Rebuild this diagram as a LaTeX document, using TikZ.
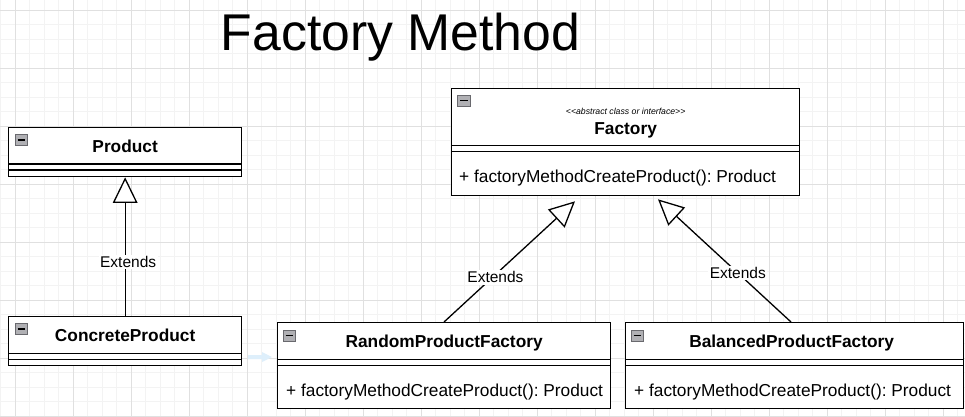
\documentclass[tikz,border=0pt]{standalone}
\usepackage{fontspec}
\setmainfont{Liberation Sans}
\usetikzlibrary{arrows.meta,calc}
\frenchspacing
\definecolor{gridmajor}{RGB}{224,224,224}
\definecolor{gridminor}{RGB}{243,243,243}
\definecolor{hint}{RGB}{222,239,251}
\definecolor{iconfill}{RGB}{176,176,180}
\definecolor{iconedge}{RGB}{105,105,110}
\tikzset{
  box/.style={draw=black, line width=1.3pt, fill=white, inner sep=0pt, anchor=north west},
  sepline/.style={line width=1.3pt},
  hdr/.style={font=\fontsize{17.3}{20}\selectfont\bfseries, anchor=base, inner sep=0pt},
  meth/.style={font=\fontsize{17.3}{20}\selectfont, anchor=base west, inner sep=0pt},
  stereo/.style={font=\fontsize{8.7}{10}\selectfont\itshape, anchor=base, inner sep=0pt},
  lbl/.style={font=\fontsize{15.5}{18}\selectfont, fill=white, inner sep=1.5pt},
  ext/.style={line width=1.3pt, -{Triangle[open, length=25.5pt, width=24.5pt, fill=white]}},
  collapseicon/.pic={
    \draw[draw=iconedge, fill=iconfill, line width=0.7pt] (0,0) rectangle (12.5,11);
    \draw[line width=1.6pt] (2.5,5.5) -- (10,5.5);
  }
}
\begin{document}
\begin{tikzpicture}[x=1pt,y=-1pt]
\useasboundingbox (0,0) rectangle (965,416);
\fill[white] (0,0) rectangle (965,416);
\begin{scope}
\clip (0,0) rectangle (965,416);
\foreach \k in {-1,...,66} \draw[gridminor, line width=0.7pt] ({15+14.5*\k},0) -- ({15+14.5*\k},416);
\foreach \k in {-1,...,28} \draw[gridminor, line width=0.7pt] (0,{10+14.5*\k}) -- (965,{10+14.5*\k});
\foreach \k in {0,...,16} \draw[gridmajor, line width=0.8pt] ({15+58*\k},0) -- ({15+58*\k},416);
\foreach \k in {0,...,7} \draw[gridmajor, line width=0.8pt] (0,{10+58*\k}) -- (965,{10+58*\k});
\end{scope}

% title
\node[font=\fontsize{51.7}{60}\selectfont, anchor=base, inner sep=0pt] (title) at (400.4,50) {Factory Method};

% faint hint arrow
\fill[hint] (248,355) -- (262,355) -- (262,352) -- (272,357) -- (262,362) -- (262,359) -- (248,359) -- cycle;

% Product
\node[box, minimum width=233pt, minimum height=49pt] (prod) at (8,127) {};
\draw[sepline] ($(prod.north west)+(0,37)$) -- ($(prod.north east)+(0,37)$);
\draw[sepline] ($(prod.north west)+(0,43)$) -- ($(prod.north east)+(0,43)$);
\pic at ($(prod.north west)+(7,7.5)$) {collapseicon};
\node[hdr] (prodT) at ($(prod.north)+(0,25.7)$) {Product};

% ConcreteProduct
\node[box, minimum width=233pt, minimum height=49pt] (cp) at (8,316) {};
\draw[sepline] ($(cp.north west)+(0,37.5)$) -- ($(cp.north east)+(0,37.5)$);
\draw[sepline] ($(cp.north west)+(0,43.5)$) -- ($(cp.north east)+(0,43.5)$);
\pic at ($(cp.north west)+(7,7.5)$) {collapseicon};
\node[hdr] (cpT) at ($(cp.north)+(0,25)$) {ConcreteProduct};

% Factory
\node[box, minimum width=348pt, minimum height=107pt] (fac) at (451,88) {};
\draw[sepline] ($(fac.north west)+(0,57.7)$) -- ($(fac.north east)+(0,57.7)$);
\draw[sepline] ($(fac.north west)+(0,63.7)$) -- ($(fac.north east)+(0,63.7)$);
\pic at ($(fac.north west)+(6.5,7)$) {collapseicon};
\node[stereo] (facS) at ($(fac.north)+(0,26)$) {<{}<abstract class or interface>{}>};
\node[hdr] (facT) at ($(fac.north)+(0,46.3)$) {Factory};
\node[meth] (facM) at ($(fac.north west)+(8,94.7)$) {+ factoryMethodCreateProduct(): Product};

% RandomProductFactory
\node[box, minimum width=333pt, minimum height=86pt] (rpf) at (277,322) {};
\draw[sepline] ($(rpf.north west)+(0,37.5)$) -- ($(rpf.north east)+(0,37.5)$);
\draw[sepline] ($(rpf.north west)+(0,43.5)$) -- ($(rpf.north east)+(0,43.5)$);
\pic at ($(rpf.north west)+(6,8)$) {collapseicon};
\node[hdr] (rpfT) at ($(rpf.north)+(0,25.3)$) {RandomProductFactory};
\node[meth] (rpfM) at ($(rpf.north west)+(9,74.7)$) {+ factoryMethodCreateProduct(): Product};

% BalancedProductFactory
\node[box, minimum width=338pt, minimum height=86pt] (bpf) at (625,322) {};
\draw[sepline] ($(bpf.north west)+(0,37.5)$) -- ($(bpf.north east)+(0,37.5)$);
\draw[sepline] ($(bpf.north west)+(0,43.5)$) -- ($(bpf.north east)+(0,43.5)$);
\pic at ($(bpf.north west)+(6,8)$) {collapseicon};
\node[hdr] (bpfT) at ($(bpf.north)+(-3,25.3)$) {BalancedProductFactory};
\node[meth] (bpfM) at ($(bpf.north west)+(9,74.7)$) {+ factoryMethodCreateProduct(): Product};

% connectors
\draw[ext] (cp.north) -- node[lbl, pos=0.39, xshift=3pt] {Extends} (prod.south);
\draw[ext] ($(rpf.north west)+(167,0)$) -- node[lbl, pos=0.37, xshift=3pt] {Extends} ($(fac.south west)+(124,5)$);
\draw[ext] ($(bpf.north west)+(166,0)$) -- node[lbl, pos=0.40] {Extends} ($(fac.south west)+(207,3)$);
\end{tikzpicture}
\end{document}
